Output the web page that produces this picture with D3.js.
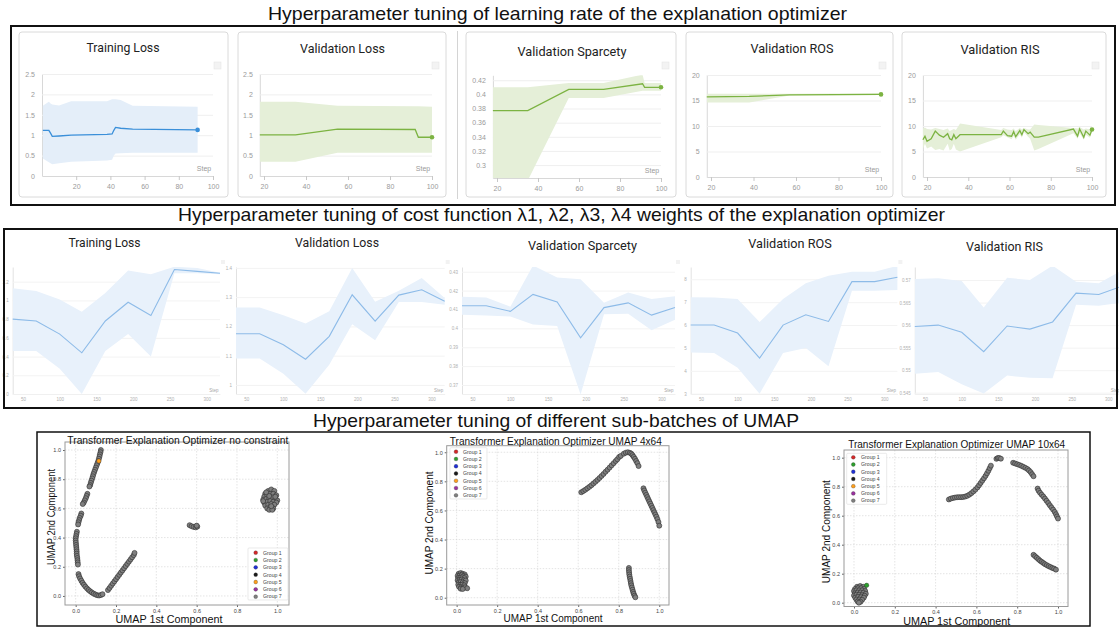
<!DOCTYPE html>
<html>
<head>
<meta charset="utf-8">
<script src="https://cdn.jsdelivr.net/npm/d3@7"></script>
<style>
  body { margin: 0; background: #fff; }
  svg { display: block; }
</style>
</head>
<body>
<script>
// ================= data =================

// section headings
const sectionTitles = [
  "Hyperparameter tuning of learning rate of the explanation optimizer",
  "Hyperparameter tuning of cost function \u03bb1, \u03bb2, \u03bb3, \u03bb4 weights of the explanation optimizer",
  "Hyperparameter tuning of different sub-batches of UMAP"
];

// --- learning-rate sweep (top row) ---
const lrTrainSteps = [0.5, 4, 5, 6, 10, 17, 38, 41, 42, 43, 46, 53, 91];
const lrTrainLoss   = [1.12, 1.12, 1.05, 0.97, 0.98, 1.00, 1.02, 1.03, 1.12, 1.19, 1.17, 1.15, 1.13];
const lrTrainLossHi = [1.72, 1.82, 1.78, 1.75, 1.73, 1.83, 1.83, 1.88, 1.88, 1.88, 1.86, 1.72, 1.70];
const lrTrainLossLo = [0.43, 0.34, 0.31, 0.29, 0.31, 0.35, 0.38, 0.40, 0.50, 0.55, 0.56, 0.57, 0.57];

const lrValLossSteps = [18, 35, 55, 92, 93.5, 100];
const lrValLoss   = [1.01, 1.01, 1.15, 1.14, 0.95, 0.95];
const lrValLossHi = [1.82, 1.82, 1.72, 1.71, 1.71, 1.70];
const lrValLossLo = [0.35, 0.35, 0.57, 0.57, 0.57, 0.57];

const lrSparsitySteps = [18, 35, 55, 72, 91, 92, 100];
const lrSparsity   = [0.377, 0.377, 0.407, 0.407, 0.415, 0.410, 0.410];
const lrSparsityHi = [0.410, 0.410, 0.416, 0.416, 0.428, 0.416, 0.416];
const lrSparsityLo = [0.200, 0.278, 0.395, 0.395, 0.405, 0.405, 0.405];

const lrRosSteps = [18, 38, 57, 100];
const lrRos   = [15.7, 15.8, 16.1, 16.2];
const lrRosHi = [16.3, 16.3, 16.3, 16.4];
const lrRosLo = [14.6, 14.6, 16.0, 16.1];

const lrRisSteps = [18, 19, 20, 22, 24, 26, 28, 30, 31, 32, 33, 34, 36, 56, 57, 59, 61, 62, 63, 65, 66, 67, 69, 70, 72, 74, 91, 93, 94, 96, 97, 99, 100];
const lrRis   = [7.3, 8.0, 7.0, 7.5, 9.0, 8.2, 7.8, 8.5, 7.5, 7.3, 8.3, 7.5, 8.3, 8.3, 9.0, 8.1, 8.0, 8.9, 7.9, 9.1, 8.3, 9.3, 8.5, 8.8, 7.8, 7.8, 9.4, 8.0, 9.4, 7.8, 9.0, 8.2, 9.3];
const lrRisHi = [9.5, 9.7, 9.4, 9.3, 9.6, 9.4, 9.2, 9.5, 9.0, 9.2, 9.4, 9.2, 10.5, 9.2, 9.6, 9.3, 9.2, 9.5, 9.0, 9.6, 9.3, 9.6, 9.3, 9.3, 10.3, 10.2, 9.6, 9.5, 9.8, 9.3, 9.5, 9.3, 9.6];
const lrRisLo = [5.5, 6.5, 5.6, 6.0, 5.3, 5.5, 5.2, 6.5, 5.2, 5.5, 6.5, 5.4, 5.0, 7.8, 8.2, 7.8, 7.4, 8.1, 7.3, 8.4, 7.7, 8.8, 7.9, 7.5, 5.2, 5.5, 8.6, 7.5, 8.6, 7.3, 8.3, 7.7, 8.9];

// --- cost-function weight sweep (middle row) ---
const costSteps = [36, 68, 100, 130, 162, 193, 224, 256, 287, 318];
const costTrainLoss   = [0.80, 0.78, 0.64, 0.44, 0.78, 0.98, 0.84, 1.33, 1.31, 1.29];
const costTrainLossHi = [1.13, 1.10, 1.01, 0.88, 1.08, 1.32, 1.28, 1.36, 1.345, 1.295];
const costTrainLossLo = [0.46, 0.46, 0.27, 0.00, 0.46, 0.64, 0.40, 1.29, 1.29, 1.28];

const costValLoss   = [1.175, 1.175, 1.137, 1.088, 1.166, 1.308, 1.218, 1.307, 1.325, 1.286];
const costValLossHi = [1.265, 1.265, 1.238, 1.210, 1.252, 1.400, 1.284, 1.322, 1.365, 1.297];
const costValLossLo = [1.090, 1.090, 1.038, 0.970, 1.069, 1.207, 1.153, 1.283, 1.283, 1.274];

const costSparsity   = [0.412, 0.412, 0.409, 0.418, 0.414, 0.395, 0.411, 0.4135, 0.407, 0.411];
const costSparsityHi = [0.4167, 0.4163, 0.4115, 0.4333, 0.427, 0.426, 0.4135, 0.419, 0.4155, 0.417];
const costSparsityLo = [0.4072, 0.4068, 0.4063, 0.402, 0.4013, 0.365, 0.4075, 0.4077, 0.399, 0.4045];

const costRos   = [6.0, 6.0, 5.65, 4.56, 6.0, 6.45, 6.16, 7.9, 7.9, 8.09];
const costRosHi = [7.22, 7.2, 7.14, 6.13, 7.14, 7.83, 8.16, 8.33, 8.33, 8.59];
const costRosLo = [4.8, 4.78, 4.13, 3.0, 4.78, 5.0, 4.2, 7.5, 7.5, 7.53];

const costRis   = [0.5597, 0.5600, 0.5584, 0.5541, 0.5598, 0.5591, 0.5607, 0.5671, 0.5668, 0.5686];
const costRisHi = [0.5702, 0.5704, 0.5698, 0.5639, 0.5705, 0.5700, 0.5732, 0.5696, 0.5693, 0.5721];
const costRisLo = [0.5492, 0.5496, 0.5469, 0.5448, 0.5488, 0.5483, 0.5482, 0.5645, 0.5643, 0.5650];

// --- UMAP embeddings (bottom row), [x, y] pairs ---
const groupNames = ["Group 1", "Group 2", "Group 3", "Group 4", "Group 5", "Group 6", "Group 7"];
const groupColors = ["#d62728", "#2ca02c", "#1f2fd8", "#1a1a1a", "#ff9f1c", "#9b30a0", "#7f7f7f"];

const umapNoConstraint = [
  [0.125,1.0],[0.123,0.985],[0.12,0.97],[0.118,0.955],[0.115,0.94],[0.112,0.925],[0.108,0.91],[0.104,0.895],[0.1,0.88],[0.096,0.865],[0.092,0.85],[0.088,0.835],[0.085,0.82],[0.082,0.805],[0.078,0.79],[0.075,0.775],[0.072,0.76],[0.068,0.75],
  [0.058,0.70],[0.054,0.685],[0.05,0.67],[0.045,0.655],[0.04,0.64],[0.035,0.63],
  [0.028,0.565],[0.025,0.55],[0.02,0.535],[0.017,0.52],[0.014,0.505],[0.012,0.49],
  [0.006,0.44],[0.004,0.425],[0.002,0.41],[0.0,0.395],[0.0,0.38],[0.001,0.365],[0.002,0.35],[0.003,0.335],[0.004,0.32],[0.005,0.305],[0.005,0.29],[0.006,0.275],[0.008,0.26],[0.009,0.245],[0.01,0.23],[0.011,0.215],
  [0.014,0.15],[0.017,0.135],[0.022,0.12],[0.028,0.105],[0.034,0.09],[0.041,0.077],[0.048,0.064],[0.056,0.052],[0.064,0.041],[0.072,0.032],[0.08,0.024],[0.089,0.016],[0.098,0.01],[0.107,0.005],[0.116,0.003],[0.125,0.006],[0.133,0.012],
  [0.16,0.04],[0.168,0.055],[0.176,0.07],[0.184,0.085],[0.192,0.1],[0.2,0.115],[0.208,0.13],[0.216,0.145],[0.224,0.16],[0.232,0.175],[0.24,0.19],[0.248,0.205],[0.256,0.22],[0.264,0.235],[0.272,0.25],[0.28,0.265],[0.288,0.28],[0.292,0.295],
  [0.565,0.485],[0.575,0.478],[0.585,0.473],[0.595,0.47],[0.603,0.475],[0.6,0.482],
  [0.94,0.70],[0.955,0.72],[0.97,0.73],[0.985,0.72],[0.935,0.68],[0.95,0.69],[0.965,0.70],[0.98,0.70],[0.995,0.69],[0.93,0.66],[0.945,0.665],[0.96,0.67],[0.975,0.675],[0.99,0.665],[1.0,0.655],[0.935,0.64],[0.95,0.645],[0.965,0.65],[0.98,0.645],[0.995,0.64],[0.94,0.62],[0.955,0.625],[0.97,0.63],[0.985,0.625],[0.95,0.60],[0.965,0.605],[0.98,0.60],[0.96,0.59],[0.975,0.59],[0.945,0.71],[0.96,0.685],[0.97,0.615],[0.99,0.68],[0.93,0.65]
];
const umapNoConstraintExtra = [[0.115, 0.925, 4]];   // [x, y, group index]

const umap4x64 = [
  [0.01,0.165],[0.02,0.17],[0.03,0.165],[0.04,0.16],[0.005,0.15],[0.015,0.152],[0.025,0.155],[0.035,0.15],[0.045,0.145],[0.008,0.135],[0.018,0.138],[0.028,0.14],[0.038,0.135],[0.005,0.12],[0.015,0.122],[0.025,0.125],[0.035,0.12],[0.045,0.118],[0.01,0.105],[0.02,0.108],[0.03,0.105],[0.04,0.1],[0.008,0.09],[0.018,0.088],[0.028,0.09],[0.038,0.085],[0.012,0.075],[0.022,0.072],[0.032,0.07],[0.042,0.072],[0.052,0.065],[0.02,0.062],[0.03,0.06],
  [0.615,0.725],[0.625,0.733],[0.635,0.742],[0.645,0.752],[0.655,0.762],[0.665,0.773],[0.675,0.785],[0.685,0.797],[0.695,0.81],[0.705,0.823],[0.715,0.837],[0.725,0.851],[0.735,0.866],[0.745,0.88],[0.755,0.895],[0.765,0.91],[0.775,0.925],[0.785,0.94],[0.793,0.952],
  [0.802,0.968],[0.81,0.975],[0.825,0.99],[0.835,0.997],[0.845,1.0],[0.855,0.996],[0.862,0.99],[0.868,0.98],[0.874,0.968],[0.88,0.955],[0.886,0.94],[0.892,0.925],[0.898,0.905],
  [0.922,0.752],[0.926,0.737],[0.931,0.722],[0.936,0.707],[0.941,0.692],[0.946,0.677],[0.951,0.662],[0.956,0.647],[0.961,0.632],[0.966,0.617],[0.971,0.602],[0.976,0.587],[0.981,0.572],[0.986,0.557],[0.991,0.54],[0.996,0.52],[1.0,0.495],
  [0.85,0.205],[0.85,0.19],[0.851,0.175],[0.852,0.16],[0.854,0.145],[0.856,0.13],[0.858,0.115],[0.86,0.1],[0.862,0.085],[0.865,0.07],[0.868,0.055],[0.871,0.04],[0.874,0.027],[0.878,0.014],[0.882,0.003]
];
const umap4x64Extra = [];

const umap10x64 = [
  [0.015,0.11],[0.03,0.115],[0.045,0.11],[0.005,0.095],[0.02,0.1],[0.035,0.1],[0.05,0.095],[0.0,0.08],[0.012,0.085],[0.025,0.085],[0.04,0.085],[0.055,0.08],[0.005,0.065],[0.018,0.07],[0.032,0.07],[0.046,0.068],[0.058,0.062],[0.0,0.05],[0.012,0.055],[0.025,0.055],[0.04,0.052],[0.052,0.048],[0.006,0.035],[0.02,0.04],[0.034,0.038],[0.048,0.035],[0.012,0.022],[0.026,0.022],[0.04,0.02],[0.018,0.008],[0.032,0.006],[0.024,0.0],
  [0.465,0.712],[0.475,0.718],[0.485,0.722],[0.495,0.725],[0.505,0.727],[0.515,0.728],[0.525,0.728],[0.535,0.729],[0.545,0.732],[0.555,0.737],[0.565,0.745],[0.575,0.755],[0.585,0.767],[0.595,0.78],[0.605,0.795],[0.613,0.81],[0.621,0.826],[0.629,0.842],[0.637,0.858],[0.645,0.875],[0.652,0.892],[0.659,0.91],[0.665,0.928],[0.671,0.945],
  [0.698,0.992],[0.705,0.998],[0.712,0.998],[0.72,0.993],
  [0.78,0.965],[0.79,0.96],[0.8,0.955],[0.81,0.95],[0.82,0.944],[0.83,0.937],[0.84,0.93],[0.85,0.922],[0.858,0.912],[0.866,0.9],[0.873,0.886],[0.88,0.872],
  [0.9,0.787],[0.905,0.772],[0.912,0.758],[0.92,0.745],[0.928,0.732],[0.936,0.718],[0.944,0.703],[0.952,0.688],[0.96,0.672],[0.968,0.657],[0.976,0.642],[0.984,0.626],[0.99,0.61],[0.995,0.595],[1.0,0.58],
  [0.88,0.33],[0.888,0.32],[0.896,0.31],[0.904,0.3],[0.912,0.29],[0.92,0.282],[0.928,0.274],[0.936,0.266],[0.945,0.259],[0.954,0.252],[0.963,0.246],[0.972,0.24],[0.981,0.235],[0.99,0.228]
];
const umap10x64Extra = [[0.062, 0.12, 1]];

const umapTicks = [0, 0.2, 0.4, 0.6, 0.8, 1.0];

// ================= drawing =================
const W = 1119, H = 627;
const FONT = '"Liberation Sans", Arial, sans-serif';
const svg = d3.select("body").append("svg")
  .attr("width", W).attr("height", H)
  .style("font-family", FONT);

svg.append("rect").attr("width", W).attr("height", H).attr("fill", "#fff");

// section frames and headings
const frames = [
  { x: 11, y: 26, w: 1104, h: 179, sw: 2 },
  { x: 4, y: 229, w: 1113, h: 179, sw: 2 },
  { x: 37, y: 432, w: 1053, h: 194, sw: 1.5 }
];
const headings = [
  { cx: 557.5, y: 20, len: 579 },
  { cx: 561.5, y: 221, len: 767 },
  { cx: 556, y: 427, len: 486 }
];

let clipCount = 0;
function clipRect(x0, y0, x1, y1) {
  const id = "clip" + (clipCount++);
  svg.append("clipPath").attr("id", id)
    .append("rect").attr("x", x0).attr("y", y0).attr("width", x1 - x0).attr("height", y1 - y0);
  return `url(#${id})`;
}

function fmt(d) { return String(+d.toFixed(3)); }

function zipSeries(steps, v, hi, lo) {
  return steps.map((s, i) => ({ s, v: v[i], hi: hi[i], lo: lo[i] }));
}

// ---------- top row: dashboard cards ----------
const BLUE = "#3a8fd9", BLUE_BAND = "#e4eef9";
const GREEN = "#7cb342", GREEN_BAND = "#e5efd8";

function drawCard(c) {
  const g = svg.append("g");
  const [bx0, by0, bx1, by1] = c.box;
  g.append("rect").attr("x", bx0).attr("y", by0).attr("width", bx1 - bx0).attr("height", by1 - by0)
    .attr("rx", 3).attr("fill", "#fff").attr("stroke", "#dadada");
  g.append("text").attr("x", c.titleX).attr("y", c.titleY).attr("text-anchor", "middle")
    .attr("font-family", "Roboto, sans-serif").attr("font-size", 13).attr("fill", "#222")
    .attr("textLength", c.titleW).attr("lengthAdjust", "spacingAndGlyphs").text(c.title);
  // little option square in the corner
  g.append("rect").attr("x", bx1 - 14).attr("y", 62).attr("width", 7).attr("height", 7)
    .attr("fill", "#f3f3f3").attr("stroke", "#e6e6e6").attr("stroke-width", 0.6);

  const x = d3.scaleLinear().domain(c.xDomain).range(c.xRange);
  const y = d3.scaleLinear().domain(c.yDomain).range(c.yRange);
  const width = c.xRange[1] - c.xRange[0];

  const gy = g.append("g").attr("transform", `translate(${c.xRange[0]},0)`)
    .call(d3.axisLeft(y).tickValues(c.yTicks).tickSize(-width).tickSizeOuter(0).tickPadding(7).tickFormat(fmt))
    .attr("font-family", FONT).attr("font-size", 7);
  gy.select(".domain").attr("stroke", "#d8d8d8");
  gy.selectAll(".tick line").attr("stroke", "#efefef");
  gy.selectAll(".tick text").attr("fill", "#9a9a9a");

  const gx = g.append("g").attr("transform", `translate(0,${c.yRange[0]})`)
    .call(d3.axisBottom(x).tickValues(c.xTicks).tickSize(4).tickSizeOuter(0).tickPadding(4))
    .attr("font-family", FONT).attr("font-size", 7);
  gx.select(".domain").attr("stroke", "#d8d8d8");
  gx.selectAll(".tick line").attr("stroke", "#c8c8c8");
  gx.selectAll(".tick text").attr("fill", "#9a9a9a");

  g.append("text").attr("x", c.xRange[1] - 9).attr("y", c.yRange[0] - 5).attr("text-anchor", "middle")
    .attr("font-size", 7).attr("fill", "#9a9a9a").text("Step");

  const data = zipSeries(c.steps, c.values, c.hi, c.lo);
  const clip = clipRect(c.xRange[0], c.yRange[1], c.xRange[1] + 3, c.yRange[0]);
  g.append("path").datum(data).attr("clip-path", clip)
    .attr("d", d3.area().x(d => x(d.s)).y0(d => y(d.lo)).y1(d => y(d.hi)))
    .attr("fill", c.band);
  g.append("path").datum(data)
    .attr("d", d3.line().x(d => x(d.s)).y(d => y(d.v)))
    .attr("fill", "none").attr("stroke", c.color).attr("stroke-width", 1.3);
  const last = data[data.length - 1];
  g.append("circle").attr("cx", x(last.s)).attr("cy", y(last.v)).attr("r", 2.3).attr("fill", c.color);
}

const topAxis20 = [20, 40, 60, 80, 100];
const cards = [
  { title: "Training Loss", box: [19, 32, 228, 197], titleX: 123, titleY: 52, titleW: 73,
    xDomain: [0, 100], xRange: [42, 213], xTicks: topAxis20,
    yDomain: [0, 2.5], yRange: [176, 74], yTicks: [0, 0.5, 1, 1.5, 2, 2.5],
    steps: lrTrainSteps, values: lrTrainLoss, hi: lrTrainLossHi, lo: lrTrainLossLo, color: BLUE, band: BLUE_BAND },
  { title: "Validation Loss", box: [238, 32, 446, 197], titleX: 342.5, titleY: 53, titleW: 85,
    xDomain: [18, 100], xRange: [259.8, 432], xTicks: topAxis20,
    yDomain: [0, 2.5], yRange: [176, 74], yTicks: [0, 0.5, 1, 1.5, 2, 2.5],
    steps: lrValLossSteps, values: lrValLoss, hi: lrValLossHi, lo: lrValLossLo, color: GREEN, band: GREEN_BAND },
  { title: "Validation Sparcety", box: [466, 32, 676, 197], titleX: 572, titleY: 56, titleW: 109,
    xDomain: [18, 100], xRange: [492.9, 661], xTicks: topAxis20,
    yDomain: [0.2817, 0.427], yRange: [178, 75.3], yTicks: [0.3, 0.32, 0.34, 0.36, 0.38, 0.4, 0.42],
    steps: lrSparsitySteps, values: lrSparsity, hi: lrSparsityHi, lo: lrSparsityLo, color: GREEN, band: GREEN_BAND },
  { title: "Validation ROS", box: [686, 32, 893, 197], titleX: 792, titleY: 53, titleW: 83,
    xDomain: [18, 100], xRange: [706.75, 881], xTicks: topAxis20,
    yDomain: [0, 20], yRange: [177, 75], yTicks: [0, 5, 10, 15, 20],
    steps: lrRosSteps, values: lrRos, hi: lrRosHi, lo: lrRosLo, color: GREEN, band: GREEN_BAND },
  { title: "Validation RIS", box: [902, 32, 1106, 197], titleX: 1000, titleY: 54, titleW: 79,
    xDomain: [18, 100], xRange: [922.9, 1092], xTicks: topAxis20,
    yDomain: [0, 20], yRange: [177, 75], yTicks: [0, 5, 10, 15, 20],
    steps: lrRisSteps, values: lrRis, hi: lrRisHi, lo: lrRisLo, color: GREEN, band: GREEN_BAND }
];
cards.forEach(drawCard);
// divider between the two card groups
svg.append("line").attr("x1", 457.5).attr("x2", 457.5).attr("y1", 31).attr("y2", 199)
  .attr("stroke", "#d4d4d4").attr("stroke-width", 1);

// ---------- middle row: plain line charts ----------
const MID_LINE = "#8dbbe8", MID_BAND = "#e8f1fb";

function drawMini(c) {
  const g = svg.append("g");
  g.append("text").attr("x", c.titleX).attr("y", c.titleY).attr("text-anchor", "middle")
    .attr("font-family", "Roboto, sans-serif").attr("font-size", 13).attr("fill", "#222")
    .attr("textLength", c.titleW).attr("lengthAdjust", "spacingAndGlyphs").text(c.title);
  g.append("rect").attr("x", c.xRange[1] + 1).attr("y", 260).attr("width", 4).attr("height", 4)
    .attr("fill", "#f2f2f2");

  const x = d3.scaleLinear().domain([36, 318]).range(c.xRange);
  const y = d3.scaleLinear().domain(c.yDomain).range([394, 267]);
  const width = c.xRange[1] - c.xRange[0];

  const gy = g.append("g").attr("transform", `translate(${c.xRange[0]},0)`)
    .call(d3.axisLeft(y).tickValues(c.yTicks).tickSize(-width).tickSizeOuter(0).tickPadding(4).tickFormat(fmt))
    .attr("font-family", FONT).attr("font-size", 4.5);
  gy.select(".domain").attr("stroke", "#e2e2e2");
  gy.selectAll(".tick line").attr("stroke", "#f3f3f3");
  gy.selectAll(".tick text").attr("fill", "#b0b0b0");

  const gx = g.append("g").attr("transform", "translate(0,394)")
    .call(d3.axisBottom(x).tickValues([50, 100, 150, 200, 250, 300]).tickSize(0).tickSizeOuter(0).tickPadding(4))
    .attr("font-family", FONT).attr("font-size", 4.5);
  gx.select(".domain").attr("stroke", "#f0f0f0");
  gx.selectAll(".tick text").attr("fill", "#b0b0b0");

  g.append("text").attr("x", c.xRange[1] - 6).attr("y", 392).attr("text-anchor", "middle")
    .attr("font-size", 4.5).attr("fill", "#a8a8a8").text("Step");

  const data = zipSeries(costSteps, c.values, c.hi, c.lo);
  const clip = clipRect(c.xRange[0], 267, c.xRange[1] + 2, 394);
  g.append("path").datum(data).attr("clip-path", clip)
    .attr("d", d3.area().x(d => x(d.s)).y0(d => y(d.lo)).y1(d => y(d.hi)))
    .attr("fill", MID_BAND);
  g.append("path").datum(data)
    .attr("d", d3.line().x(d => x(d.s)).y(d => y(d.v)))
    .attr("fill", "none").attr("stroke", MID_LINE).attr("stroke-width", 1.1);
}

const minis = [
  { title: "Training Loss", titleX: 104.5, titleY: 247, titleW: 72, xRange: [12.7, 220],
    yDomain: [0, 1.357], yTicks: [0, 0.2, 0.4, 0.6, 0.8, 1, 1.2],
    values: costTrainLoss, hi: costTrainLossHi, lo: costTrainLossLo },
  { title: "Validation Loss", titleX: 337, titleY: 247, titleW: 84, xRange: [236, 444.7],
    yDomain: [0.969, 1.403], yTicks: [1, 1.1, 1.2, 1.3, 1.4],
    values: costValLoss, hi: costValLossHi, lo: costValLossLo },
  { title: "Validation Sparcety", titleX: 582.5, titleY: 250, titleW: 109, xRange: [462, 675],
    yDomain: [0.36523, 0.4325], yTicks: [0.37, 0.38, 0.39, 0.4, 0.41, 0.42, 0.43],
    values: costSparsity, hi: costSparsityHi, lo: costSparsityLo },
  { title: "Validation ROS", titleX: 790, titleY: 248, titleW: 83.5, xRange: [690.7, 897.4],
    yDomain: [2.987, 8.538], yTicks: [3, 4, 5, 6, 7, 8],
    values: costRos, hi: costRosHi, lo: costRosLo },
  { title: "Validation RIS", titleX: 1004.5, titleY: 251, titleW: 77, xRange: [914.8, 1121.5],
    yDomain: [0.54471, 0.57289], yTicks: [0.545, 0.55, 0.555, 0.56, 0.565, 0.57],
    values: costRis, hi: costRisHi, lo: costRisLo }
];
minis.forEach(drawMini);

// ---------- bottom row: UMAP scatter plots ----------
function drawScatter(c) {
  const g = svg.append("g");
  const [fx0, fy0, fx1, fy1] = c.frame;
  const x = d3.scaleLinear().domain(c.xDomain).range([fx0, fx1]);
  const y = d3.scaleLinear().domain(c.yDomain).range([fy1, fy0]);

  // dotted grid
  g.append("g").selectAll("line").data(umapTicks).join("line")
    .attr("x1", d => x(d)).attr("x2", d => x(d)).attr("y1", fy0).attr("y2", fy1)
    .attr("stroke", "#d2d2d2").attr("stroke-width", 0.6).attr("stroke-dasharray", "1.5,1.5");
  g.append("g").selectAll("line").data(umapTicks).join("line")
    .attr("y1", d => y(d)).attr("y2", d => y(d)).attr("x1", fx0).attr("x2", fx1)
    .attr("stroke", "#d2d2d2").attr("stroke-width", 0.6).attr("stroke-dasharray", "1.5,1.5");

  const gx = g.append("g").attr("transform", `translate(0,${fy1})`)
    .call(d3.axisBottom(x).tickValues(umapTicks).tickSize(2).tickSizeOuter(0).tickPadding(2).tickFormat(d3.format(".1f")))
    .attr("font-family", FONT).attr("font-size", 5.5);
  gx.select(".domain").remove();
  gx.selectAll(".tick line").attr("stroke", "#666");
  gx.selectAll(".tick text").attr("fill", "#444");
  const gy = g.append("g").attr("transform", `translate(${fx0},0)`)
    .call(d3.axisLeft(y).tickValues(umapTicks).tickSize(2).tickSizeOuter(0).tickPadding(2).tickFormat(d3.format(".1f")))
    .attr("font-family", FONT).attr("font-size", 5.5);
  gy.select(".domain").remove();
  gy.selectAll(".tick line").attr("stroke", "#666");
  gy.selectAll(".tick text").attr("fill", "#444");

  // points (all groups overlap; group 7 is drawn last on top)
  g.append("g").selectAll("circle").data(c.points).join("circle")
    .attr("cx", d => x(d[0])).attr("cy", d => y(d[1])).attr("r", 2.5)
    .attr("fill", "#7f7f7f").attr("stroke", "#2e2e2e").attr("stroke-width", 0.6);
  g.append("g").selectAll("circle").data(c.extra).join("circle")
    .attr("cx", d => x(d[0])).attr("cy", d => y(d[1])).attr("r", 2.2)
    .attr("fill", d => groupColors[d[2]]).attr("stroke", "#2e2e2e").attr("stroke-width", 0.4);

  g.append("rect").attr("x", fx0).attr("y", fy0).attr("width", fx1 - fx0).attr("height", fy1 - fy0)
    .attr("fill", "none").attr("stroke", "#9a9a9a").attr("stroke-width", 1);

  // legend
  const lg = g.append("g");
  lg.append("rect").attr("x", c.legend.x0).attr("y", c.legend.y0)
    .attr("width", c.legend.x1 - c.legend.x0).attr("height", c.legend.y1 - c.legend.y0)
    .attr("fill", "#fff").attr("fill-opacity", 0.85).attr("stroke", "#dcdcdc").attr("stroke-width", 0.6).attr("rx", 1);
  const items = lg.selectAll("g").data(groupNames).join("g")
    .attr("transform", (d, i) => `translate(0,${c.legend.first + i * c.legend.step})`);
  items.append("circle").attr("cx", c.legend.mx).attr("cy", 0).attr("r", 1.9)
    .attr("fill", (d, i) => groupColors[i]).attr("stroke", "#333").attr("stroke-width", 0.3);
  items.append("text").attr("x", c.legend.tx).attr("y", 1.8).attr("font-size", 5.2).attr("fill", "#444").text(d => d);

  // labels
  g.append("text").attr("x", c.titleX).attr("y", c.titleY).attr("text-anchor", "middle")
    .attr("font-size", 10.5).attr("fill", "#111")
    .attr("textLength", c.titleW).attr("lengthAdjust", "spacingAndGlyphs").text(c.title);
  g.append("text").attr("x", c.xlabX).attr("y", c.xlabY).attr("text-anchor", "middle")
    .attr("font-size", 11).attr("fill", "#111")
    .attr("textLength", c.xlabW).attr("lengthAdjust", "spacingAndGlyphs").text("UMAP 1st Component");
  g.append("text").attr("transform", `translate(${c.ylabX},${c.ylabY}) rotate(-90)`)
    .attr("text-anchor", "middle").attr("font-size", 11).attr("fill", "#111")
    .attr("textLength", c.ylabW).attr("lengthAdjust", "spacingAndGlyphs").text("UMAP 2nd Component");
}

const scatters = [
  { title: "Transformer Explanation Optimizer no constraint", titleX: 177.8, titleY: 443.5, titleW: 221,
    frame: [65, 442, 289, 605], xDomain: [-0.053, 1.058], yDomain: [-0.062, 1.055],
    points: umapNoConstraint, extra: umapNoConstraintExtra,
    legend: { x0: 248, y0: 548, x1: 288, y1: 600, first: 552.7, step: 7.33, mx: 255.7, tx: 263 },
    xlabX: 169, xlabY: 623, xlabW: 107, ylabX: 55, ylabY: 517, ylabW: 96 },
  { title: "Transformer Explanation Optimizer UMAP 4x64", titleX: 555.8, titleY: 445, titleW: 212,
    frame: [446.7, 445.7, 669, 605], xDomain: [-0.049, 1.048], yDomain: [-0.050, 1.045],
    points: umap4x64, extra: umap4x64Extra,
    legend: { x0: 450, y0: 447.7, x1: 487, y1: 499, first: 451.7, step: 7.27, mx: 456, tx: 463 },
    xlabX: 553, xlabY: 622, xlabW: 99, ylabX: 433, ylabY: 523, ylabW: 103 },
  { title: "Transformer Explanation Optimizer UMAP 10x64", titleX: 956.7, titleY: 447.5, titleW: 217,
    frame: [844, 450, 1068, 606.5], xDomain: [-0.049, 1.049], yDomain: [-0.0262, 1.053],
    points: umap10x64, extra: umap10x64Extra,
    legend: { x0: 846.7, y0: 453.3, x1: 886.7, y1: 504.3, first: 457.3, step: 7.22, mx: 853.3, tx: 861 },
    xlabX: 956.7, xlabY: 624.5, xlabW: 107, ylabX: 830, ylabY: 531.7, ylabW: 103 }
];
scatters.forEach(drawScatter);

// section frames and headings on top
frames.forEach(f => {
  svg.append("rect").attr("x", f.x).attr("y", f.y).attr("width", f.w).attr("height", f.h)
    .attr("fill", "none").attr("stroke", "#111").attr("stroke-width", f.sw);
});
headings.forEach((h, i) => {
  svg.append("text").attr("x", h.cx).attr("y", h.y).attr("text-anchor", "middle")
    .attr("font-size", 18.5).attr("fill", "#111")
    .attr("textLength", h.len).attr("lengthAdjust", "spacingAndGlyphs")
    .text(sectionTitles[i]);
});
</script>
</body>
</html>
